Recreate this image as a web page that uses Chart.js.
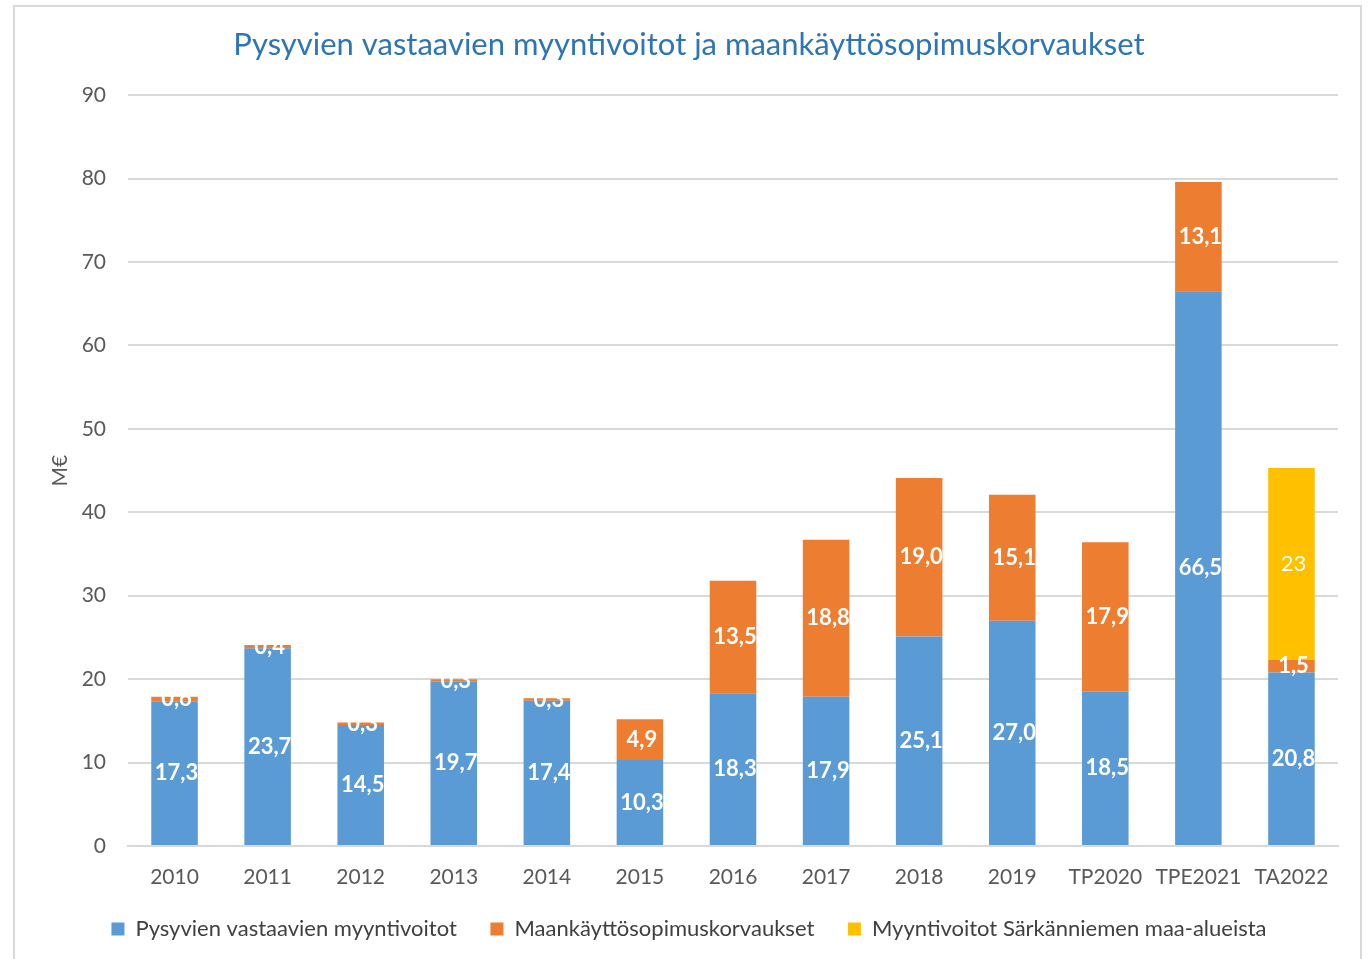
<!DOCTYPE html>
<html>
<head>
<meta charset="utf-8">
<script src="https://cdn.jsdelivr.net/npm/chart.js@4.4.1/dist/chart.umd.min.js"></script>
<style>
  html, body { margin: 0; padding: 0; background: #ffffff; }
  #frame { position: absolute; left: 13px; top: 5px; width: 1349px; height: 970px; border: 2px solid #d9d9d9; box-sizing: border-box; }
  #wrap { position: absolute; left: 0; top: 0; width: 1371px; height: 959px; }
</style>
</head>
<body>
<div id="frame"></div>
<div id="wrap"><canvas id="c" width="1371" height="959"></canvas></div>
<script>
const categories = ['2010', '2011', '2012', '2013', '2014', '2015', '2016', '2017', '2018', '2019', 'TP2020', 'TPE2021', 'TA2022'];
const seriesNames = ['Pysyvien vastaavien myyntivoitot', 'Maankäyttösopimuskorvaukset', 'Myyntivoitot Särkänniemen maa-alueista'];
const myyntivoitot = [17.3, 23.7, 14.5, 19.7, 17.4, 10.3, 18.3, 17.9, 25.1, 27.0, 18.5, 66.5, 20.8];
const maankaytto = [0.6, 0.4, 0.3, 0.3, 0.3, 4.9, 13.5, 18.8, 19.0, 15.1, 17.9, 13.1, 1.5];
const sarkanniemi = [null, null, null, null, null, null, null, null, null, null, null, null, 23];
const yTicks = [0, 10, 20, 30, 40, 50, 60, 70, 80, 90];
const titleText = 'Pysyvien vastaavien myyntivoitot ja maankäyttösopimuskorvaukset';
const yTitle = 'M€';

const FONT = 'Lato, "Open Sans", sans-serif';

const labelPlugin = {
  id: 'segLabels',
  afterDatasetsDraw(chart) {
    const ctx = chart.ctx;
    ctx.save();
    ctx.textAlign = 'center';
    ctx.textBaseline = 'middle';
    chart.data.datasets.forEach((ds, di) => {
      const meta = chart.getDatasetMeta(di);
      meta.data.forEach((el, i) => {
        const v = ds.data[i];
        if (v === null || v === undefined) return;
        const txt = ds.labelDecimals ? v.toFixed(1).replace('.', ',') : String(v);
        ctx.font = (ds.labelBold ? 'bold ' : '') + '22px ' + FONT;
        ctx.fillStyle = '#ffffff';
        ctx.fillText(txt, el.x + 2, (el.y + el.base) / 2);
      });
    });
    ctx.restore();
  }
};

new Chart(document.getElementById('c'), {
  type: 'bar',
  data: {
    labels: categories,
    datasets: [
      { label: seriesNames[0], data: myyntivoitot, backgroundColor: '#5B9BD5', labelDecimals: true, labelBold: true },
      { label: seriesNames[1], data: maankaytto, backgroundColor: '#ED7D31', labelDecimals: true, labelBold: true },
      { label: seriesNames[2], data: sarkanniemi, backgroundColor: '#FFC000', labelDecimals: false, labelBold: false }
    ]
  },
  options: {
    responsive: false,
    animation: false,
    devicePixelRatio: 1,
    layout: { padding: { top: 6, left: 40, right: 33, bottom: 9 } },
    datasets: { bar: { categoryPercentage: 1.0, barPercentage: 0.5 } },
    plugins: {
      title: {
        display: true, text: titleText, color: '#2E75B6',
        font: { family: FONT, size: 31, weight: 'normal' },
        padding: { top: 20, bottom: 32 }
      },
      legend: {
        position: 'bottom',
        labels: {
          color: '#404040', font: { family: FONT, size: 22 },
          boxWidth: 13, boxHeight: 13, padding: 28,
          generateLabels(chart) {
            const items = Chart.defaults.plugins.legend.labels.generateLabels(chart);
            return items.map((it, i) => Object.assign(it, { text: i < items.length - 1 ? it.text + ' ' : it.text }));
          }
        }
      },
      tooltip: { enabled: false }
    },
    scales: {
      x: {
        stacked: true,
        grid: { display: false, drawTicks: false },
        border: { display: true, color: '#d9d9d9', width: 2 },
        ticks: { color: '#595959', font: { family: FONT, size: 21 }, padding: 19, maxRotation: 0 },
        afterFit(scale) { scale.height = 44; }
      },
      y: {
        stacked: true, min: 0, max: 90,
        afterBuildTicks(scale) { scale.ticks = yTicks.map(v => ({ value: v })); },
        grid: { color: '#d9d9d9', lineWidth: 2, drawTicks: false },
        border: { display: false },
        ticks: { color: '#595959', font: { family: FONT, size: 21 }, padding: 22 },
        title: { display: true, text: yTitle, color: '#595959', font: { family: FONT, size: 21 }, padding: { top: 8, bottom: 0 } },
        afterFit(scale) { scale.width = 88; }
      }
    }
  },
  plugins: [labelPlugin]
});
</script>
</body>
</html>
